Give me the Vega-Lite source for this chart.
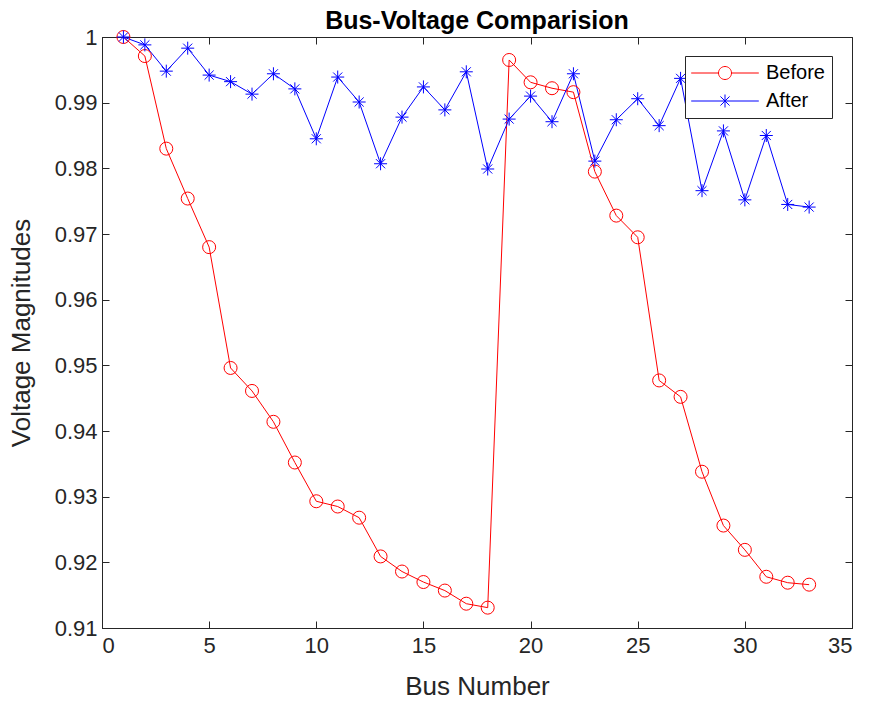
{
  "$schema": "https://vega.github.io/schema/vega-lite/v6.json",
  "autosize": {"type": "none"},
  "padding": {"left": 102, "top": 37, "right": 21, "bottom": 79},
  "width": 750,
  "height": 591,
  "background": "white",
  "title": {"text": "Bus-Voltage Comparision", "fontSize": 25, "fontWeight": "bold", "color": "#000000", "font": "Liberation Sans", "offset": 8, "dy": 16, "anchor": "middle", "frame": "group"},
  "config": {
    "font": "Liberation Sans",
    "view": {"stroke": "#262626", "strokeWidth": 1},
    "axis": {"grid": false, "labelColor": "#262626", "tickColor": "#262626", "domainColor": "#262626", "titleColor": "#262626", "labelFontSize": 22, "titleFontSize": 26, "titleFontWeight": "normal", "tickSize": -7, "domainWidth": 1, "tickWidth": 1}
  },
  "data": {"values": [
    {"bus": 1, "series": "Before", "v": 1.0000},
    {"bus": 2, "series": "Before", "v": 0.9971},
    {"bus": 3, "series": "Before", "v": 0.9830},
    {"bus": 4, "series": "Before", "v": 0.9754},
    {"bus": 5, "series": "Before", "v": 0.9680},
    {"bus": 6, "series": "Before", "v": 0.9496},
    {"bus": 7, "series": "Before", "v": 0.9461},
    {"bus": 8, "series": "Before", "v": 0.9414},
    {"bus": 9, "series": "Before", "v": 0.9352},
    {"bus": 10, "series": "Before", "v": 0.9293},
    {"bus": 11, "series": "Before", "v": 0.9285},
    {"bus": 12, "series": "Before", "v": 0.9268},
    {"bus": 13, "series": "Before", "v": 0.9209},
    {"bus": 14, "series": "Before", "v": 0.9186},
    {"bus": 15, "series": "Before", "v": 0.9170},
    {"bus": 16, "series": "Before", "v": 0.9157},
    {"bus": 17, "series": "Before", "v": 0.9137},
    {"bus": 18, "series": "Before", "v": 0.9131},
    {"bus": 19, "series": "Before", "v": 0.9965},
    {"bus": 20, "series": "Before", "v": 0.9931},
    {"bus": 21, "series": "Before", "v": 0.9922},
    {"bus": 22, "series": "Before", "v": 0.9916},
    {"bus": 23, "series": "Before", "v": 0.9795},
    {"bus": 24, "series": "Before", "v": 0.9728},
    {"bus": 25, "series": "Before", "v": 0.9695},
    {"bus": 26, "series": "Before", "v": 0.9477},
    {"bus": 27, "series": "Before", "v": 0.9452},
    {"bus": 28, "series": "Before", "v": 0.9338},
    {"bus": 29, "series": "Before", "v": 0.9256},
    {"bus": 30, "series": "Before", "v": 0.9219},
    {"bus": 31, "series": "Before", "v": 0.9178},
    {"bus": 32, "series": "Before", "v": 0.9169},
    {"bus": 33, "series": "Before", "v": 0.9166},
    {"bus": 1, "series": "After", "v": 1.0000},
    {"bus": 2, "series": "After", "v": 0.9988},
    {"bus": 3, "series": "After", "v": 0.9948},
    {"bus": 4, "series": "After", "v": 0.9983},
    {"bus": 5, "series": "After", "v": 0.9942},
    {"bus": 6, "series": "After", "v": 0.9932},
    {"bus": 7, "series": "After", "v": 0.9913},
    {"bus": 8, "series": "After", "v": 0.9944},
    {"bus": 9, "series": "After", "v": 0.9921},
    {"bus": 10, "series": "After", "v": 0.9845},
    {"bus": 11, "series": "After", "v": 0.9939},
    {"bus": 12, "series": "After", "v": 0.9901},
    {"bus": 13, "series": "After", "v": 0.9807},
    {"bus": 14, "series": "After", "v": 0.9878},
    {"bus": 15, "series": "After", "v": 0.9924},
    {"bus": 16, "series": "After", "v": 0.9889},
    {"bus": 17, "series": "After", "v": 0.9947},
    {"bus": 18, "series": "After", "v": 0.9799},
    {"bus": 19, "series": "After", "v": 0.9875},
    {"bus": 20, "series": "After", "v": 0.9910},
    {"bus": 21, "series": "After", "v": 0.9871},
    {"bus": 22, "series": "After", "v": 0.9944},
    {"bus": 23, "series": "After", "v": 0.9811},
    {"bus": 24, "series": "After", "v": 0.9874},
    {"bus": 25, "series": "After", "v": 0.9906},
    {"bus": 26, "series": "After", "v": 0.9865},
    {"bus": 27, "series": "After", "v": 0.9937},
    {"bus": 28, "series": "After", "v": 0.9766},
    {"bus": 29, "series": "After", "v": 0.9857},
    {"bus": 30, "series": "After", "v": 0.9752},
    {"bus": 31, "series": "After", "v": 0.9850},
    {"bus": 32, "series": "After", "v": 0.9745},
    {"bus": 33, "series": "After", "v": 0.9741}
  ]},
  "resolve": {"axis": {"x": "independent", "y": "independent"}},
  "layer": [
    {
      "mark": {"type": "line", "strokeWidth": 1, "clip": true},
      "encoding": {
        "x": {"field": "bus", "type": "quantitative", "scale": {"domain": [0, 35], "nice": false, "zero": false},
              "axis": {"orient": "bottom", "values": [0, 5, 10, 15, 20, 25, 30, 35], "title": "Bus Number", "labelPadding": 14, "titlePadding": 17}},
        "y": {"field": "v", "type": "quantitative", "scale": {"domain": [0.91, 1.0], "nice": false, "zero": false},
              "axis": {"orient": "left", "values": [0.91, 0.92, 0.93, 0.94, 0.95, 0.96, 0.97, 0.98, 0.99, 1.0], "format": ".2~f", "title": "Voltage Magnitudes", "labelPadding": 12, "titlePadding": 20}},
        "color": {"field": "series", "type": "nominal", "scale": {"domain": ["Before", "After"], "range": ["#ff0000", "#0000ff"]},
                  "legend": {
                    "title": null, "orient": "none", "legendX": 583, "legendY": 19,
                    "padding": 7, "rowPadding": 8, "symbolOffset": 23, "labelOffset": 31,
                    "strokeColor": "#262626", "fillColor": "white",
                    "labelFontSize": 20, "labelColor": "#000000", "symbolSize": 169, "symbolStrokeWidth": 1,
                    "encoding": {"symbols": {
                      "shape": {"value": {"expr": "datum.value === 'Before' ? 'M-5.2,0L-1,0M1,0L5.2,0M-1,0A1,1,0,1,0,1,0A1,1,0,1,0,-1,0' : 'M-5.2,0L5.2,0M0,-1L0,1M-0.7,-0.7L0.7,0.7M-0.7,0.7L0.7,-0.7'"}},
                      "fill": {"value": "transparent"},
                      "strokeWidth": {"value": 1}
                    }}
                  }},
        "detail": {"field": "series"}
      }
    },
    {
      "transform": [{"filter": "datum.series === 'Before'"}],
      "mark": {"type": "point", "shape": "circle", "filled": false, "strokeWidth": 1, "size": 169, "opacity": 1},
      "encoding": {
        "x": {"field": "bus", "type": "quantitative",
              "axis": {"orient": "top", "values": [0, 5, 10, 15, 20, 25, 30, 35], "labels": false, "title": null, "domain": false}},
        "y": {"field": "v", "type": "quantitative",
              "axis": {"orient": "right", "values": [0.91, 0.92, 0.93, 0.94, 0.95, 0.96, 0.97, 0.98, 0.99, 1.0], "labels": false, "title": null, "domain": false}},
        "color": {"field": "series", "type": "nominal"}
      }
    },
    {
      "transform": [{"filter": "datum.series === 'After'"}],
      "mark": {"type": "point", "shape": "M-1,0L1,0M0,-1L0,1M-0.7,-0.7L0.7,0.7M-0.7,0.7L0.7,-0.7", "filled": false, "strokeWidth": 1, "size": 169, "opacity": 1},
      "encoding": {
        "x": {"field": "bus", "type": "quantitative", "axis": null},
        "y": {"field": "v", "type": "quantitative", "axis": null},
        "color": {"field": "series", "type": "nominal"}
      }
    }
  ]
}
